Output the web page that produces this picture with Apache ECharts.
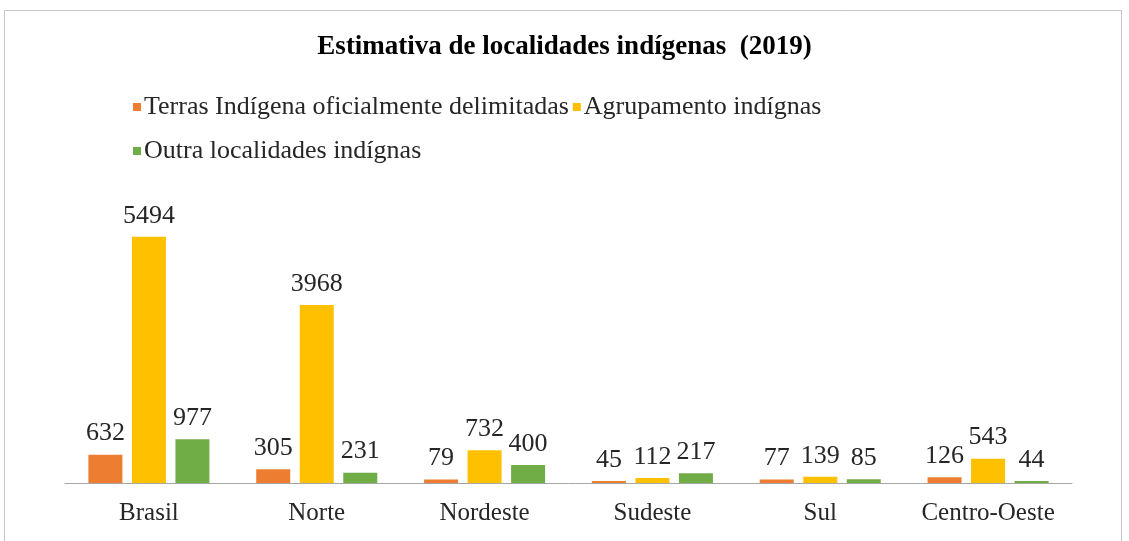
<!DOCTYPE html>
<html>
<head>
<meta charset="utf-8">
<script src="https://cdn.jsdelivr.net/npm/echarts@6/dist/echarts.min.js"></script>
<style>
	html, body { margin: 0; padding: 0; background: #fff; }
	#chart { width: 1129px; height: 541px; }
</style>
</head>
<body>
<div id="chart"></div>
<script>
	var regioes = ['Brasil', 'Norte', 'Nordeste', 'Sudeste', 'Sul', 'Centro-Oeste'];
	var terras = [632, 305, 79, 45, 77, 126];
	var agrupamentos = [5494, 3968, 732, 112, 139, 543];
	var outras = [977, 231, 400, 217, 85, 44];

	var fonte = '"Liberation Serif", "Times New Roman", serif';
	var rotulo = {
		show: true,
		position: 'top',
		distance: 8,
		color: '#262626',
		fontFamily: fonte,
		fontSize: 26
	};

	var chart = echarts.init(document.getElementById('chart'));
	var option = {
		backgroundColor: '#fff',
		animation: false,
		textStyle: { fontFamily: fonte },
		graphic: [{
			type: 'rect',
			shape: { x: 4.5, y: 10.5, width: 1117, height: 545 },
			style: { fill: 'none', stroke: '#c4c4c4', lineWidth: 1 },
			silent: true
		}],
		title: {
			text: 'Estimativa de localidades indígenas  (2019)',
			left: 'center',
			top: 29,
			textStyle: {
				fontFamily: fonte,
				fontSize: 27,
				fontWeight: 'bold',
				color: '#000'
			}
		},
		legend: [{
			data: ['Terras Indígena oficialmente delimitadas', 'Agrupamento indígnas'],
			left: 128,
			top: 89,
			itemWidth: 8,
			itemHeight: 8,
			itemGap: 4,
			icon: 'rect',
			textStyle: { fontFamily: fonte, fontSize: 26, color: '#262626', padding: [0, 0, 0, -2] }
		}, {
			data: ['Outra localidades indígnas'],
			left: 128,
			top: 133,
			itemWidth: 8,
			itemHeight: 8,
			icon: 'rect',
			textStyle: { fontFamily: fonte, fontSize: 26, color: '#262626', padding: [0, 0, 0, -2] }
		}],
		grid: {
			left: 65,
			right: 57,
			top: 214,
			bottom: 58
		},
		xAxis: {
			type: 'category',
			data: regioes,
			axisTick: { show: false },
			axisLine: { lineStyle: { color: '#a6a6a6', width: 1 } },
			axisLabel: {
				interval: 0,
				margin: 18,
				color: '#262626',
				fontFamily: fonte,
				fontSize: 25
			}
		},
		yAxis: {
			type: 'value',
			min: 0,
			max: 6000,
			show: false,
			splitLine: { show: false }
		},
		series: [{
			name: 'Terras Indígena oficialmente delimitadas',
			type: 'bar',
			data: terras,
			barWidth: 34,
			barGap: '28%',
			itemStyle: { color: '#ED7D31' },
			label: rotulo
		}, {
			name: 'Agrupamento indígnas',
			type: 'bar',
			data: agrupamentos,
			barWidth: 34,
			itemStyle: { color: '#FFC000' },
			label: rotulo
		}, {
			name: 'Outra localidades indígnas',
			type: 'bar',
			data: outras,
			barWidth: 34,
			itemStyle: { color: '#70AD47' },
			label: rotulo
		}]
	};
	chart.setOption(option);
</script>
</body>
</html>
